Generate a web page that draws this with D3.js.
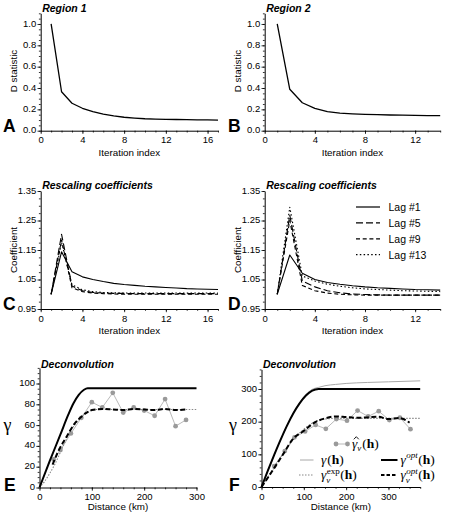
<!DOCTYPE html>
<html><head><meta charset="utf-8">
<script src="https://cdn.jsdelivr.net/npm/d3@7"></script>
<style>
body{margin:0;background:#fff}
svg{display:block}
text{font-family:"Liberation Sans",Arial,Helvetica,sans-serif;fill:#000}
</style>
</head><body>
<svg id="c" width="452" height="515"></svg>
<script>
// ---------- DATA ----------
const iterA = [1,2,3,4,5,6,7,8,9,10,11,12,13,14,15,16,17];
const dStatA = [1.0,0.365,0.257,0.21,0.178,0.156,0.138,0.126,0.118,0.112,0.109,0.107,0.105,0.103,0.102,0.101,0.1];
const iterB = [1,2,3,4,5,6,7,8,9,10,11,12,13,14];
const dStatB = [1.0,0.388,0.262,0.21,0.178,0.165,0.158,0.153,0.15,0.147,0.145,0.143,0.142,0.141];

const lagNames = ["Lag #1","Lag #5","Lag #9","Lag #13"];
const coefC_lag1  = [1.0,1.144,1.076,1.059,1.05,1.043,1.037,1.033,1.03,1.027,1.025,1.023,1.021,1.019,1.018,1.017,1.016];
const coefC_lag5  = [1.0,1.203,1.028,1.012,1.006,1.004,1.003,1.003,1.002,1.002,1.002,1.002,1.002,1.002,1.002,1.002,1.002];
const coefC_lag9  = [1.0,1.184,1.022,1.009,1.004,1.002,1.001,1.0,1.0,1.0,1.0,1.0,1.0,1.0,1.0,1.0,1.0];
const coefC_lag13 = [1.0,1.176,1.032,1.015,1.009,1.006,1.005,1.004,1.004,1.004,1.004,1.004,1.004,1.004,1.004,1.004,1.004];

const coefD_lag1  = [1.0,1.133,1.071,1.05,1.04,1.034,1.029,1.025,1.022,1.02,1.018,1.016,1.015,1.014];
const coefD_lag5  = [1.0,1.268,1.045,1.025,1.012,1.005,1.001,0.999,0.998,0.997,0.997,0.997,0.997,0.997];
const coefD_lag9  = [1.0,1.25,1.03,1.012,1.004,1.0,0.998,0.997,0.997,0.997,0.997,0.997,0.997,0.997];
const coefD_lag13 = [1.0,1.295,1.062,1.045,1.034,1.027,1.022,1.018,1.016,1.014,1.012,1.011,1.01,1.009];

// Panel E (distance km, gamma)
const eOptH  = [0,20,40,55,65,75,85,92,300];
const eOptG  = [0,26,51,70,81,89,94,95.5,95.5];
const eVOptH = [25,37,52,65,80,90,100,120,140,160,180,200,220,240,260,280];
const eVOptG = [22,36,49,60,68,72,74.5,75.5,75,74.5,75.5,75,74.5,75.5,74.5,75];
const eVExpH = [0,10,20,30,40,50,60,70,80,90,100,110,300];
const eVExpG = [0,6,14,23,34,45,55,62,68,72,74.3,75,75];
const eEmpH  = [27,40,60,80,100,120,140,160,180,200,220,240,260,280];
const eEmpG  = [27,36,52,67,82,77,91,72,77,74,69,85,59,65];

// Panel F
const fOptH  = [0,15,30,45,60,75,90,105,120,135,375];
const fOptG  = [0,50,98,144,187,225,256,280,295,300,300];
const fGamH  = [0,15,30,45,60,75,90,105,120,135,150,175,200,250,300,375];
const fGamG  = [0,50,98,144,187,226,258,283,299,305,310,314,317,320,322,325];
const fVOptH = [0,25,50,75,100,125,150,175,200,225,250,275,300,325,350];
const fVOptG = [0,48,98,148,172,197,210,216,214,212,213,215,208,211,197];
const fVExpH = [0,25,50,75,100,125,150,175,375];
const fVExpG = [0,50,100,145,177,199,208,210,210];
const fEmpH  = [30,55,78,103,128,152,177,202,227,252,277,302,327,352];
const fEmpG  = [64,110,152,170,190,178,208,203,234,216,232,205,212,177];

// Tick labels
const ticksIterA = [0,4,8,12,16];
const ticksIterB = [0,4,8,12];
const ticksD = [0,0.2,0.4,0.6,0.8,1.0];
const ticksCoef = [0.95,1.05,1.15,1.25,1.35];
const ticksDistE = [0,100,200,300];
const ticksGamE = [0,20,40,60,80,100];
const ticksDistF = [0,100,200,300];
const ticksGamF = [0,100,200,300];

// ---------- DRAW ----------
const svg = d3.select('#c');

function minorRange(a,b,s){ const out=[]; for(let v=a; v<=b+1e-9; v+=s) out.push(+v.toFixed(6)); return out; }

function panel(c){
  const x = d3.scaleLinear().domain(c.xDom).range(c.xR);
  const y = d3.scaleLinear().domain(c.yDom).range(c.yR);
  const g = svg.append('g');
  g.append('g').attr('transform',`translate(${c.xR[0]},0)`)
    .call(d3.axisLeft(y).tickValues(minorRange(c.yDom[0],c.yDom[1],c.yMinor)).tickSize(1.8).tickFormat(''))
    .call(s=>s.select('.domain').remove());
  g.append('g').attr('transform',`translate(0,${c.yR[0]})`)
    .call(d3.axisBottom(x).tickValues(minorRange(c.xDom[0],c.xDom[1],c.xMinor)).tickSize(1.8).tickFormat(''))
    .call(s=>s.select('.domain').remove());
  const ya = g.append('g').attr('transform',`translate(${c.xR[0]},0)`)
    .call(d3.axisLeft(y).tickValues(c.yTicks).tickSize(3.2).tickSizeOuter(0).tickPadding(1.2).tickFormat(c.yFmt));
  ya.selectAll('text').attr('dy','0.22em').style('font-size','9.5px').style('font-family','"Liberation Sans",Arial,sans-serif');
  const xa = g.append('g').attr('transform',`translate(0,${c.yR[0]})`)
    .call(d3.axisBottom(x).tickValues(c.xTicks).tickSize(3.2).tickSizeOuter(0).tickFormat(d3.format('d')));
  xa.selectAll('text').attr('y',12.5).attr('dy',0).style('font-size','9.5px').style('font-family','"Liberation Sans",Arial,sans-serif');
  g.selectAll('.domain').attr('stroke','#000').attr('stroke-width',1);
  g.selectAll('.tick line').attr('stroke','#000').attr('stroke-width',0.8);
  g.append('text').attr('x',c.xR[0]+1.5).attr('y',c.titleY).text(c.title)
    .style('font-weight','bold').style('font-style','italic').style('font-size','10.5px');
  g.append('text').attr('x',c.letterX).attr('y',c.letterY).text(c.letter)
    .style('font-weight','bold').style('font-size','17.5px');
  g.append('text').attr('x',(c.xR[0]+c.xR[1])/2).attr('y',c.yR[0]+c.xLabOff).attr('text-anchor','middle')
    .text(c.xLab).style('font-size','9.8px');
  if(c.yLabGreek){
    g.append('text').attr('x',c.yLabX).attr('y',c.yLabY).attr('text-anchor','middle').text(c.yLab)
      .style('font-family','"Liberation Serif","Times New Roman",serif').style('font-size','18px');
  } else {
    g.append('text').attr('transform',`translate(${c.yLabX},${c.yLabY}) rotate(-90)`).attr('text-anchor','middle')
      .text(c.yLab).style('font-size','9.8px');
  }
  return {x,y,g};
}

function drawLine(p, xs, ys, style){
  const line = d3.line().x((d,i)=>p.x(xs[i])).y((d,i)=>p.y(ys[i]));
  if(style.curve) line.curve(style.curve);
  p.g.append('path').datum(ys).attr('d',line).attr('fill','none')
    .attr('stroke',style.color||'#000').attr('stroke-width',style.w||1.2)
    .attr('stroke-dasharray',style.dash||null).attr('stroke-linejoin','round');
}

// A
const pA = panel({xDom:[0,17],xR:[40.7,218],yDom:[0,1.1],yR:[130.7,13.3],yTicks:ticksD,yFmt:d3.format('.1f'),yMinor:0.05,
  xTicks:ticksIterA,xMinor:1,title:'Region 1',titleY:12,letter:'A',letterX:3,letterY:131.5,xLab:'Iteration index',xLabOff:25,
  yLab:'D statistic',yLabX:16.5,yLabY:71});
drawLine(pA, iterA, dStatA, {w:1.3});
// B
const pB = panel({xDom:[0,14],xR:[264.7,440.2],yDom:[0,1.1],yR:[130.7,13.3],yTicks:ticksD,yFmt:d3.format('.1f'),yMinor:0.05,
  xTicks:ticksIterB,xMinor:1,title:'Region 2',titleY:12,letter:'B',letterX:228,letterY:131.5,xLab:'Iteration index',xLabOff:25,
  yLab:'D statistic',yLabX:240.5,yLabY:71});
drawLine(pB, iterB, dStatB, {w:1.3});

const lagStyles = [{w:1.1,dash:null},{w:1.1,dash:'7,3'},{w:1.1,dash:'4,2.7'},{w:1.1,dash:'1.5,2.3'}];
// C
const pC = panel({xDom:[0,17],xR:[40.7,218],yDom:[0.95,1.35],yR:[309,191],yTicks:ticksCoef,yFmt:d3.format('.2f'),yMinor:0.025,
  xTicks:ticksIterA,xMinor:1,title:'Rescaling coefficients',titleY:189,letter:'C',letterX:3,letterY:310,xLab:'Iteration index',xLabOff:24.5,
  yLab:'Coefficient',yLabX:16.5,yLabY:250});
[coefC_lag1,coefC_lag5,coefC_lag9,coefC_lag13].forEach((s,i)=>drawLine(pC, iterA, s, lagStyles[i]));
// D
const pD = panel({xDom:[0,14],xR:[264.7,440.2],yDom:[0.95,1.35],yR:[309,191],yTicks:ticksCoef,yFmt:d3.format('.2f'),yMinor:0.025,
  xTicks:ticksIterB,xMinor:1,title:'Rescaling coefficients',titleY:189,letter:'D',letterX:228,letterY:310,xLab:'Iteration index',xLabOff:24.5,
  yLab:'Coefficient',yLabX:240.5,yLabY:250});
[coefD_lag1,coefD_lag5,coefD_lag9,coefD_lag13].forEach((s,i)=>drawLine(pD, iterB, s, lagStyles[i]));
lagNames.forEach((n,i)=>{
  const yy = 207 + i*15.9;
  pD.g.append('line').attr('x1',356).attr('x2',380).attr('y1',yy).attr('y2',yy)
    .attr('stroke','#000').attr('stroke-width',1.2).attr('stroke-dasharray',lagStyles[i].dash);
  pD.g.append('text').attr('x',388.5).attr('y',yy+3.8).text(n).style('font-size','10.5px');
});

// E
const pE = panel({xDom:[0,300],xR:[39.5,196.5],yDom:[0,115],yR:[487.5,367.9],yTicks:ticksGamE,yFmt:d3.format('d'),yMinor:5,
  xTicks:ticksDistE,xMinor:20,title:'Deconvolution',titleY:368,letter:'E',letterX:4,letterY:490.5,xLab:'Distance (km)',xLabOff:22.5,
  yLab:'γ',yLabGreek:true,yLabX:7.5,yLabY:431});
const gray='#b9b9b9', grayDot='#9a9a9a';
drawLine(pE, eEmpH, eEmpG, {w:1,color:gray});
pE.g.selectAll('circle.e').data(eEmpG).join('circle').attr('cx',(d,i)=>pE.x(eEmpH[i])).attr('cy',d=>pE.y(d)).attr('r',2.4).attr('fill',grayDot);
drawLine(pE, eVExpH, eVExpG, {w:1.1,color:'#888',dash:'1.5,1.5',curve:d3.curveMonotoneX});
drawLine(pE, eOptH, eOptG, {w:2,curve:d3.curveMonotoneX});
drawLine(pE, eVOptH, eVOptG, {w:2,dash:'5,2.5',curve:d3.curveMonotoneX});

// F
const pF = panel({xDom:[0,375],xR:[261.5,420.2],yDom:[0,360],yR:[487,369.4],yTicks:ticksGamF,yFmt:d3.format('d'),yMinor:20,
  xTicks:ticksDistF,xMinor:25,title:'Deconvolution',titleY:368,letter:'F',letterX:229,letterY:490.5,xLab:'Distance (km)',xLabOff:22.5,
  yLab:'γ',yLabGreek:true,yLabX:233,yLabY:431});
drawLine(pF, fEmpH, fEmpG, {w:1,color:gray});
pF.g.selectAll('circle.f').data(fEmpG).join('circle').attr('cx',(d,i)=>pF.x(fEmpH[i])).attr('cy',d=>pF.y(d)).attr('r',2.4).attr('fill',grayDot);
drawLine(pF, fVExpH, fVExpG, {w:1.1,color:'#888',dash:'1.5,1.5',curve:d3.curveMonotoneX});
drawLine(pF, fGamH, fGamG, {w:1,color:'#a8a8a8',curve:d3.curveMonotoneX});
drawLine(pF, fOptH, fOptG, {w:2,curve:d3.curveMonotoneX});
drawLine(pF, fVOptH, fVOptG, {w:2,dash:'5,2.5',curve:d3.curveMonotoneX});

// F legend (math labels)
const serif = '"Liberation Serif","Times New Roman",serif';
const lg = pF.g.append('g');
function mtext(x,y,txt,opt){
  const t = lg.append('text').attr('x',x).attr('y',y).text(txt)
    .style('font-family',serif).style('font-size',(opt&&opt.size||13.5)+'px');
  if(opt&&opt.it) t.style('font-style','italic');
  if(opt&&opt.b) t.style('font-weight','bold');
  return t.node().getComputedTextLength();
}
function paren(x,y){ let w = mtext(x,y,'('); w += mtext(x+w,y,'h',{b:true}); w += mtext(x+w,y,')'); return w; }
function gammaLabel(x,y,sub,sup,supIt,hat){
  let w = mtext(x,y,'γ',{it:true});
  if(hat){
    lg.append('path').attr('d',`M${x+1.8},${y-8.2}L${x+4.3},${y-10.8}L${x+6.8},${y-8.2}`)
      .attr('fill','none').attr('stroke','#000').attr('stroke-width',0.9);
  }
  let ws=0, wp=0;
  if(sub) ws = mtext(x+w,y+3.5,sub,{it:true,size:9});
  if(sup) wp = mtext(x+w+0.5,y-5.5,sup,{it:supIt,size:9});
  w += Math.max(ws,wp)+0.8;
  paren(x+w,y);
}
lg.append('line').attr('x1',336).attr('x2',347.5).attr('y1',444).attr('y2',444).attr('stroke',gray).attr('stroke-width',1);
[336,347.5].forEach(cx=>lg.append('circle').attr('cx',cx).attr('cy',444).attr('r',2.4).attr('fill',grayDot));
gammaLabel(352,447.5,'v',null,false,true);
lg.append('line').attr('x1',300).attr('x2',313.5).attr('y1',460).attr('y2',460).attr('stroke','#a8a8a8').attr('stroke-width',1);
gammaLabel(321,463.5,null,null);
lg.append('line').attr('x1',381).attr('x2',397.5).attr('y1',460).attr('y2',460).attr('stroke','#000').attr('stroke-width',2);
gammaLabel(400.5,463.5,null,'opt',true);
lg.append('line').attr('x1',299).attr('x2',313.5).attr('y1',475).attr('y2',475).attr('stroke','#888').attr('stroke-width',1.1).attr('stroke-dasharray','1.5,1.5');
gammaLabel(321,479,'v','exp',false);
lg.append('line').attr('x1',381).attr('x2',397.5).attr('y1',475).attr('y2',475).attr('stroke','#000').attr('stroke-width',2).attr('stroke-dasharray','3.5,2');
gammaLabel(400.5,479,'v','opt',true);
</script>
</body></html>
